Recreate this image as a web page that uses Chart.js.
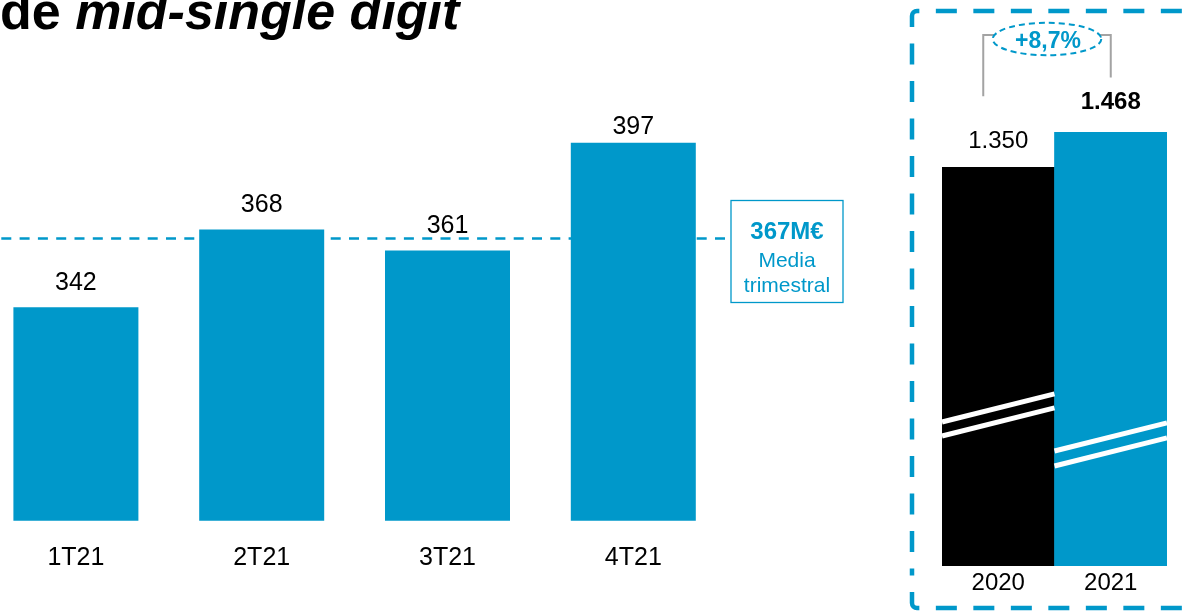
<!DOCTYPE html>
<html><head><meta charset="utf-8">
<script src="https://cdn.jsdelivr.net/npm/chart.js@4.4.1/dist/chart.umd.min.js"></script>
<style>
html,body{margin:0;padding:0;background:#fff;overflow:hidden;width:1183px;height:611px;}
body{position:relative;font-family:"Liberation Sans",Arial,sans-serif;}
#title{position:absolute;left:0;top:-15.5px;font-size:52px;line-height:52px;font-weight:bold;color:#000;white-space:nowrap;}
#title i{font-style:italic;}
#wrapL{position:absolute;left:-17px;top:0;width:880px;height:611px;}
#wrapR{position:absolute;left:900px;top:0;width:283px;height:611px;}
</style></head><body>
<div id="title">de <i>mid-single digit</i></div>
<div id="wrapL"><canvas id="cL"></canvas></div>
<div id="wrapR"><canvas id="cR"></canvas></div>
<script>
// ---- data ----
const quarters = ['1T21', '2T21', '3T21', '4T21'];
const quarterValues = [342, 368, 361, 397];
const years = ['2020', '2021'];
const yearValues = [1350, 1468];
const avgLineValue = 365;          // where the dashed average line sits in the picture
const avgLabelLines = ['Media', 'trimestral'];

// ---- styles ----
const FONT = '"Liberation Sans", Arial, sans-serif';
const BLUE = '#0098CA';
const GREY = '#A3A3A3';

const fmtThousands = v => String(v).replace(/\B(?=(\d{3})+(?!\d))/g, '.');
const avgValue = Math.round(quarterValues.reduce((a, b) => a + b, 0) / quarterValues.length);
const growth = (yearValues[1] / yearValues[0] - 1) * 100;
const growthText = '+' + growth.toFixed(1).replace('.', ',') + '%';

// ---------- LEFT CHART ----------
const leftOffset = -17; // canvas page offset
const leftPlugin = {
  id: 'leftDeco',
  beforeDatasetsDraw(chart) {
    const ctx = chart.ctx, a = chart.chartArea;
    const y = chart.scales.y.getPixelForValue(avgLineValue);
    ctx.save();
    ctx.strokeStyle = BLUE; ctx.lineWidth = 2.5; ctx.setLineDash([10, 8.3]);
    ctx.beginPath(); ctx.moveTo(a.left, y); ctx.lineTo(a.right, y); ctx.stroke();
    ctx.restore();
  },
  afterDatasetsDraw(chart) {
    const ctx = chart.ctx;
    const meta = chart.getDatasetMeta(0);
    const gaps = [17, 17, 17, 9];
    ctx.save();
    ctx.fillStyle = '#000'; ctx.textAlign = 'center'; ctx.textBaseline = 'alphabetic';
    ctx.font = '25px ' + FONT;
    meta.data.forEach((bar, i) => {
      ctx.fillText(String(quarterValues[i]), bar.x, bar.y - gaps[i]);
    });
    // average box
    const bx = 731 - leftOffset, by = 200.5, bw = 112, bh = 102;
    ctx.strokeStyle = BLUE; ctx.lineWidth = 1.3;
    ctx.strokeRect(bx, by, bw, bh);
    ctx.fillStyle = BLUE;
    const cx = bx + bw / 2;
    ctx.font = 'bold 24px ' + FONT;
    ctx.fillText(avgValue + 'M€', cx, 239);
    ctx.font = '21px ' + FONT;
    ctx.fillText(avgLabelLines[0], cx, 267);
    ctx.fillText(avgLabelLines[1], cx, 292);
    ctx.restore();
  }
};

new Chart(document.getElementById('cL'), {
  type: 'bar',
  data: {
    labels: quarters,
    datasets: [{ data: quarterValues, backgroundColor: BLUE, barPercentage: 1, categoryPercentage: 125 / 185.8 }]
  },
  options: {
    responsive: true, maintainAspectRatio: false, animation: false,
    layout: { padding: { left: 0, right: 136.8, top: 103.8, bottom: 0 } },
    plugins: { legend: { display: false }, tooltip: { enabled: false } },
    scales: {
      x: {
        grid: { display: false, drawTicks: false }, border: { display: false },
        ticks: { color: '#000', font: { size: 25, family: FONT }, padding: 22 },
        afterFit(s) { s.height = 90.3; }
      },
      y: { display: false, min: 270.7, max: 410 }
    }
  },
  plugins: [leftPlugin]
});

// ---------- RIGHT CHART ----------
const rightPlugin = {
  id: 'rightDeco',
  beforeDraw(chart) {
    const ctx = chart.ctx;
    ctx.save();
    ctx.strokeStyle = BLUE; ctx.lineWidth = 4.5; ctx.setLineDash([21, 16.5]);
    const L = 12, T = 11, B = 608, R = 400, r = 5;
    ctx.beginPath(); ctx.moveTo(L, 27); ctx.lineTo(L, T + r); ctx.arcTo(L, T, L + r, T, r); ctx.lineTo(R, T); ctx.stroke();
    ctx.beginPath(); ctx.moveTo(L, 43.5); ctx.lineTo(L, 575.5); ctx.stroke();
    ctx.beginPath(); ctx.moveTo(L, 592); ctx.lineTo(L, B - r); ctx.arcTo(L, B, L + r, B, r); ctx.lineTo(R, B); ctx.stroke();
    ctx.restore();
  },
  afterDatasetsDraw(chart) {
    const ctx = chart.ctx;
    const meta = chart.getDatasetMeta(0);
    const ys = chart.scales.y;
    const b0 = meta.data[0], b1 = meta.data[1];
    ctx.save();
    // axis-break marks
    const breaks = [[487.6, 440.2], [389.4, 338.6]];
    const rise = 95;
    ctx.strokeStyle = '#fff'; ctx.lineWidth = 5;
    meta.data.forEach((bar, i) => {
      const x0 = bar.x - bar.width / 2, x1 = bar.x + bar.width / 2;
      breaks[i].forEach(v => {
        ctx.beginPath();
        ctx.moveTo(x0, ys.getPixelForValue(v));
        ctx.lineTo(x1, ys.getPixelForValue(v + rise));
        ctx.stroke();
      });
    });
    // value labels
    ctx.fillStyle = '#000'; ctx.textAlign = 'center'; ctx.textBaseline = 'alphabetic';
    ctx.font = '24px ' + FONT;
    ctx.fillText(fmtThousands(yearValues[0]), b0.x, b0.y - 19);
    ctx.font = 'bold 24px ' + FONT;
    ctx.fillText(fmtThousands(yearValues[1]), b1.x, b1.y - 23);
    // bracket
    const lx = b0.x - 15, rx = b1.x, topY = 35;
    const ecx = (lx + rx) / 2, ecy = 39, erx = 54.3, ery = 16.2;
    ctx.strokeStyle = GREY; ctx.lineWidth = 2;
    ctx.beginPath(); ctx.moveTo(lx, b0.y - 71); ctx.lineTo(lx, topY); ctx.lineTo(ecx - erx + 2, topY); ctx.stroke();
    ctx.beginPath(); ctx.moveTo(ecx + erx - 2, topY); ctx.lineTo(rx, topY); ctx.lineTo(rx, b1.y - 55); ctx.stroke();
    // dashed ellipse
    ctx.strokeStyle = BLUE; ctx.lineWidth = 2; ctx.setLineDash([6, 4]);
    ctx.beginPath(); ctx.ellipse(ecx, ecy, erx, ery, 0, 0, Math.PI * 2); ctx.stroke();
    ctx.setLineDash([]);
    ctx.fillStyle = BLUE; ctx.font = 'bold 23px ' + FONT;
    ctx.fillText(growthText, ecx + 1, 48);
    ctx.restore();
  }
};

new Chart(document.getElementById('cR'), {
  type: 'bar',
  data: {
    labels: years,
    datasets: [{ data: yearValues, backgroundColor: ['#000000', BLUE], barPercentage: 1, categoryPercentage: 1 }]
  },
  options: {
    responsive: true, maintainAspectRatio: false, animation: false,
    layout: { padding: { left: 42, right: 16, top: 123, bottom: 0 } },
    plugins: { legend: { display: false }, tooltip: { enabled: false } },
    scales: {
      x: {
        grid: { display: false, drawTicks: false }, border: { display: false },
        ticks: { color: '#000', font: { size: 24, family: FONT }, padding: 2.6 },
        afterFit(s) { s.height = 45; }
      },
      y: { display: false, min: 0, max: 1500 }
    }
  },
  plugins: [rightPlugin]
});
</script>
</body></html>
